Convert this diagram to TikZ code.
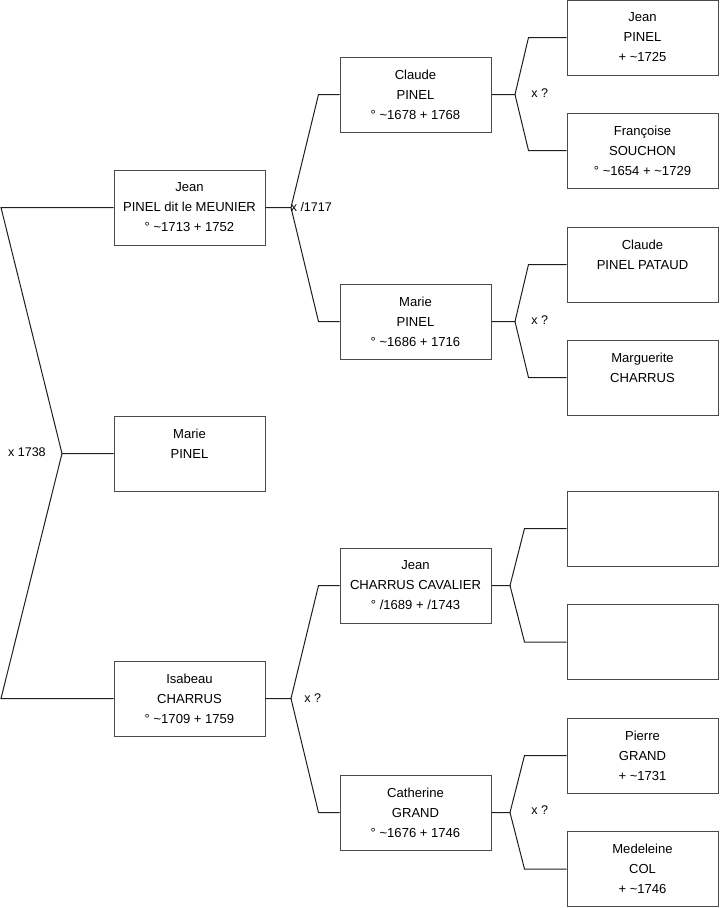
\documentclass[tikz,border=0pt]{standalone}
\usepackage{fontspec}
\setmainfont{Liberation Sans}
\usepackage{tikz}
\usetikzlibrary{positioning}
\definecolor{boxrule}{RGB}{75,75,75}
\definecolor{linkrule}{RGB}{30,30,30}
\tikzset{
  person/.style={rectangle,draw=boxrule,line width=0.75pt,align=center,minimum width=113.25pt,minimum height=56.25pt,inner sep=0pt,font=\fontsize{9.8}{15}\selectfont},
  link/.style={draw=linkrule,line width=0.75pt},
  union/.style={inner sep=0pt,font=\fontsize{9.4}{11}\selectfont}
}

\begin{document}
\begin{tikzpicture}[x=0.75pt,y=-0.75pt]
  \useasboundingbox (0,0) rectangle (719,908);
  % generation 1
  \node[person] (jean) at (189.5,207.5) {Jean\\PINEL dit le MEUNIER\\° \textasciitilde1713 + 1752};
  \node[person] (marie) at (189.5,453.5) {Marie\\PINEL\\\phantom{0}};
  \node[person] (isabeau) at (189.5,698.5) {Isabeau\\CHARRUS\\° \textasciitilde1709 + 1759};
  % generation 2
  \node[person] (claude) at (415.5,94.5) {Claude\\PINEL\\° \textasciitilde1678 + 1768};
  \node[person] (mariep) at (415.5,321.5) {Marie\\PINEL\\° \textasciitilde1686 + 1716};
  \node[person] (jeanc) at (415.5,585.5) {Jean\\CHARRUS CAVALIER\\° /1689 + /1743};
  \node[person] (catherine) at (415.5,812.5) {Catherine\\GRAND\\° \textasciitilde1676 + 1746};
  % generation 3
  \node[person] (jeanp) at (642.5,37.5) {Jean\\PINEL\\+ \textasciitilde1725};
  \node[person] (francoise) at (642.5,150.5) {Françoise\\SOUCHON\\° \textasciitilde1654 + \textasciitilde1729};
  \node[person] (claudep) at (642.5,264.5) {Claude\\PINEL PATAUD\\\phantom{0}};
  \node[person] (marguerite) at (642.5,377.5) {Marguerite\\CHARRUS\\\phantom{0}};
  \node[person] (blanka) at (642.5,528.5) {};
  \node[person] (blankb) at (642.5,642) {};
  \node[person] (pierre) at (642.5,755.5) {Pierre\\GRAND\\+ \textasciitilde1731};
  \node[person] (medeleine) at (642.5,869) {Medeleine\\COL\\+ \textasciitilde1746};

  % fork points
  \coordinate (edge) at (1,0);
  \coordinate (v0) at (62,453.5);
  \coordinate (vj) at (291,207.5);
  \coordinate (vi) at (291,698.5);
  \coordinate (vc) at (515,94.5);
  \coordinate (vm) at (515,321.5);
  \coordinate (vjc) at (510,585.5);
  \coordinate (vca) at (510,812.5);

  % forks
  \draw[link] (jean.west) -- (jean.west -| edge) -- (v0) -- (marie.west);
  \draw[link] (v0) -- (isabeau.west -| edge) -- (isabeau.west);
  \draw[link] (jean.east) -- (vj) -- ([xshift=-15.75pt]claude.west) -- (claude.west);
  \draw[link] (vj) -- ([xshift=-15.75pt]mariep.west) -- (mariep.west);
  \draw[link] (isabeau.east) -- (vi) -- ([xshift=-15.75pt]jeanc.west) -- (jeanc.west);
  \draw[link] (vi) -- ([xshift=-15.75pt]catherine.west) -- (catherine.west);
  \draw[link] (claude.east) -- (vc) -- ([xshift=-28.5pt]jeanp.west) -- (jeanp.west);
  \draw[link] (vc) -- ([xshift=-28.5pt]francoise.west) -- (francoise.west);
  \draw[link] (mariep.east) -- (vm) -- ([xshift=-28.5pt]claudep.west) -- (claudep.west);
  \draw[link] (vm) -- ([xshift=-28.5pt]marguerite.west) -- (marguerite.west);
  \draw[link] (jeanc.east) -- (vjc) -- ([xshift=-31.5pt]blanka.west) -- (blanka.west);
  \draw[link] (vjc) -- ([xshift=-31.5pt]blankb.west) -- (blankb.west);
  \draw[link] (catherine.east) -- (vca) -- ([xshift=-31.5pt]pierre.west) -- (pierre.west);
  \draw[link] (vca) -- ([xshift=-31.5pt]medeleine.west) -- (medeleine.west);

  % marriages
  \node[union,anchor=east] (m0) at (46,452.5) {x 1738};
  \node[union,anchor=west] (m1) at (290.5,207) {x /1717};
  \node[union,anchor=west] (m2) at (531,93) {x ?};
  \node[union,anchor=west] (m3) at (531,320) {x ?};
  \node[union,anchor=west] (m4) at (304,698) {x ?};
  \node[union,anchor=west] (m5) at (531,810) {x ?};
\end{tikzpicture}
\end{document}
